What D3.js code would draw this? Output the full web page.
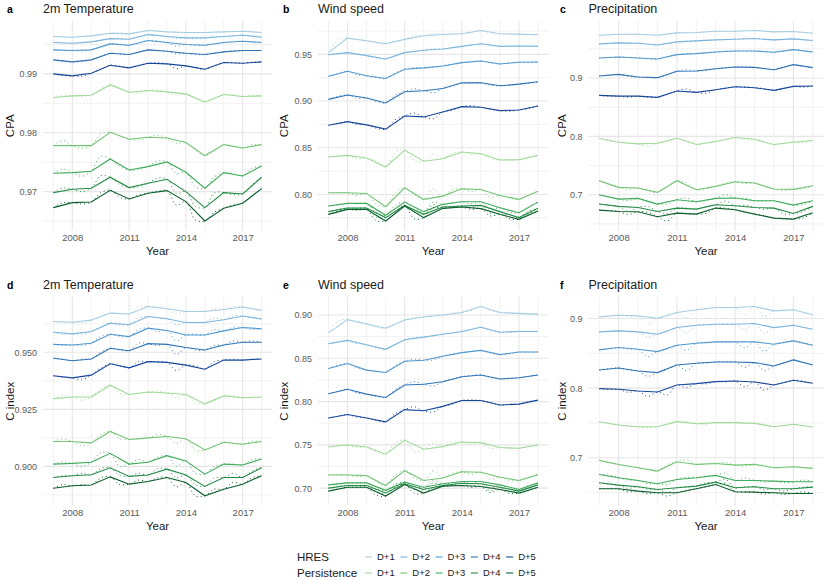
<!DOCTYPE html>
<html>
<head>
<meta charset="utf-8">
<script src="https://cdn.jsdelivr.net/npm/d3@7"></script>
<style>
  body { margin: 0; background: #fff; }
  text { font-family: "Liberation Sans", Arial, sans-serif; }
</style>
</head>
<body>
<div id="chart"></div>
<script>
// Years and lead times
var years = [2007, 2008, 2009, 2010, 2011, 2012, 2013, 2014, 2015, 2016, 2017, 2018];
var leads = ["D+1", "D+2", "D+3", "D+4", "D+5"];
var majorYears = [2008, 2011, 2014, 2017];

// Each series: yearly values (solid line) and mid-year values (dotted line)
// a: 2m temperature, CPA
var tempCpaHres = [
  [0.99635, 0.99623, 0.99646, 0.99691, 0.9968, 0.99737, 0.99714, 0.99703, 0.99703, 0.99714, 0.99725, 0.99703],
  [0.99533, 0.99521, 0.99544, 0.996, 0.99589, 0.99668, 0.99635, 0.99612, 0.99612, 0.99635, 0.99657, 0.99623],
  [0.99408, 0.99397, 0.99408, 0.9951, 0.99487, 0.99567, 0.99533, 0.99499, 0.99487, 0.99533, 0.99555, 0.99533],
  [0.99238, 0.99204, 0.99238, 0.99351, 0.99329, 0.99408, 0.99385, 0.99351, 0.99329, 0.99374, 0.99397, 0.99397],
  [0.99, 0.98966, 0.99011, 0.99147, 0.99102, 0.99181, 0.9917, 0.99136, 0.99079, 0.99193, 0.99181, 0.99204]
];
var tempCpaHresMid = [
  [0.9963, 0.9963, 0.9967, 0.9970, 0.9971, 0.9973, 0.9970, 0.9970, 0.9971, 0.9972, 0.9972],
  [0.9953, 0.9953, 0.9957, 0.9960, 0.9963, 0.9966, 0.9960, 0.9960, 0.9963, 0.9965, 0.9965],
  [0.9940, 0.9939, 0.9946, 0.9950, 0.9952, 0.9956, 0.9947, 0.9948, 0.9951, 0.9955, 0.9955],
  [0.9921, 0.9921, 0.9930, 0.9934, 0.9937, 0.9940, 0.9934, 0.9933, 0.9935, 0.9939, 0.9940],
  [0.9897, 0.9896, 0.9908, 0.9913, 0.9914, 0.9919, 0.9909, 0.9910, 0.9914, 0.9919, 0.9920]
];
var tempCpaPers = [
  [0.98598, 0.98626, 0.98637, 0.98813, 0.98688, 0.98717, 0.98694, 0.9866, 0.98524, 0.98649, 0.98615, 0.98626],
  [0.97782, 0.97782, 0.97782, 0.98008, 0.9789, 0.97924, 0.97912, 0.97833, 0.97612, 0.97799, 0.97742, 0.97799],
  [0.97312, 0.97323, 0.97346, 0.97555, 0.97368, 0.97425, 0.97504, 0.97329, 0.97057, 0.97323, 0.97266, 0.97436],
  [0.96983, 0.9704, 0.97057, 0.97244, 0.97068, 0.97142, 0.9721, 0.97, 0.96728, 0.96983, 0.9696, 0.97244],
  [0.96728, 0.96813, 0.96824, 0.97023, 0.96875, 0.96972, 0.97017, 0.9683, 0.96501, 0.96717, 0.96802, 0.97051]
];
var tempCpaPersMid = [
  [0.9864, 0.9862, 0.9874, 0.9877, 0.9868, 0.9873, 0.9864, 0.9858, 0.9858, 0.9864, 0.9864],
  [0.9787, 0.9773, 0.9798, 0.9795, 0.9788, 0.9796, 0.9782, 0.9770, 0.9768, 0.9777, 0.9780],
  [0.9738, 0.9726, 0.9760, 0.9743, 0.9737, 0.9752, 0.9731, 0.9708, 0.9725, 0.9730, 0.9740],
  [0.9706, 0.9700, 0.9727, 0.9712, 0.9708, 0.9723, 0.9697, 0.9675, 0.9698, 0.9695, 0.9712],
  [0.9681, 0.9679, 0.9698, 0.9690, 0.9694, 0.9701, 0.9677, 0.9652, 0.9665, 0.9677, 0.9693]
];

// b: wind speed, CPA
var windCpaHres = [
  [0.9518, 0.9674, 0.9645, 0.9613, 0.966, 0.9699, 0.9713, 0.972, 0.9755, 0.972, 0.9716, 0.9709],
  [0.9496, 0.9518, 0.9486, 0.945, 0.9518, 0.9543, 0.9557, 0.9585, 0.9613, 0.9585, 0.9589, 0.9585],
  [0.9266, 0.9319, 0.927, 0.9241, 0.934, 0.9355, 0.9376, 0.9411, 0.9429, 0.9397, 0.9415, 0.9418],
  [0.9018, 0.9064, 0.9032, 0.8979, 0.9099, 0.911, 0.9135, 0.9195, 0.9195, 0.9163, 0.9181, 0.9206],
  [0.8741, 0.878, 0.8745, 0.8699, 0.884, 0.883, 0.8883, 0.894, 0.8933, 0.8897, 0.8904, 0.8947]
];
var windCpaHresMid = [
  [0.966, 0.966, 0.962, 0.964, 0.970, 0.972, 0.972, 0.973, 0.973, 0.972, 0.971],
  [0.951, 0.950, 0.946, 0.948, 0.953, 0.956, 0.957, 0.960, 0.960, 0.959, 0.959],
  [0.929, 0.928, 0.925, 0.930, 0.936, 0.936, 0.939, 0.942, 0.941, 0.941, 0.941],
  [0.905, 0.903, 0.900, 0.906, 0.913, 0.909, 0.916, 0.920, 0.917, 0.917, 0.919],
  [0.876, 0.875, 0.871, 0.880, 0.887, 0.881, 0.890, 0.895, 0.891, 0.889, 0.892]
];
var windCpaPers = [
  [0.8401, 0.8418, 0.839, 0.8294, 0.8475, 0.8355, 0.8383, 0.8454, 0.8436, 0.8369, 0.8372, 0.8418],
  [0.8018, 0.8018, 0.8011, 0.7869, 0.8071, 0.7947, 0.7982, 0.806, 0.8053, 0.7989, 0.7947, 0.8035],
  [0.7876, 0.7904, 0.7904, 0.7777, 0.7918, 0.7816, 0.7894, 0.7922, 0.7922, 0.7858, 0.7805, 0.7918],
  [0.7816, 0.7855, 0.7855, 0.7752, 0.7883, 0.7787, 0.7865, 0.7876, 0.7883, 0.7816, 0.7752, 0.7851],
  [0.7787, 0.784, 0.784, 0.7716, 0.7876, 0.7752, 0.7851, 0.7865, 0.7848, 0.7787, 0.7734, 0.7823]
];
var windCpaPersMid = [
  [0.841, 0.838, 0.836, 0.845, 0.836, 0.843, 0.844, 0.843, 0.838, 0.837, 0.840],
  [0.802, 0.799, 0.790, 0.802, 0.800, 0.806, 0.805, 0.803, 0.797, 0.796, 0.799],
  [0.789, 0.790, 0.780, 0.788, 0.786, 0.792, 0.791, 0.790, 0.784, 0.781, 0.787],
  [0.784, 0.785, 0.776, 0.782, 0.781, 0.789, 0.787, 0.786, 0.780, 0.776, 0.782],
  [0.782, 0.783, 0.772, 0.780, 0.774, 0.786, 0.786, 0.784, 0.777, 0.774, 0.779]
];

// c: precipitation, CPA
var precCpaHres = [
  [0.9734, 0.9751, 0.9751, 0.9734, 0.9774, 0.9779, 0.9802, 0.9802, 0.9814, 0.9791, 0.9797, 0.9768],
  [0.9585, 0.9602, 0.9596, 0.9567, 0.9619, 0.9636, 0.9653, 0.9665, 0.9676, 0.9653, 0.967, 0.9642],
  [0.9344, 0.9361, 0.9344, 0.9327, 0.9401, 0.9418, 0.9447, 0.9464, 0.9464, 0.9441, 0.9487, 0.9447],
  [0.9034, 0.9063, 0.9017, 0.9006, 0.9115, 0.912, 0.916, 0.9189, 0.9183, 0.9143, 0.9229, 0.9178],
  [0.8702, 0.869, 0.869, 0.8668, 0.8777, 0.8754, 0.88, 0.8851, 0.8834, 0.8788, 0.8857, 0.8862]
];
var precCpaHresMid = [
  [0.974, 0.975, 0.974, 0.976, 0.978, 0.979, 0.980, 0.981, 0.980, 0.980, 0.978],
  [0.959, 0.960, 0.958, 0.959, 0.963, 0.965, 0.966, 0.967, 0.966, 0.966, 0.966],
  [0.935, 0.935, 0.933, 0.937, 0.942, 0.943, 0.946, 0.946, 0.945, 0.946, 0.947],
  [0.905, 0.903, 0.901, 0.905, 0.914, 0.913, 0.918, 0.919, 0.916, 0.918, 0.920],
  [0.869, 0.867, 0.867, 0.872, 0.881, 0.874, 0.883, 0.885, 0.882, 0.882, 0.884]
];
var precCpaPers = [
  [0.7968, 0.79, 0.7871, 0.7883, 0.7968, 0.786, 0.7911, 0.798, 0.7951, 0.786, 0.79, 0.7928],
  [0.7241, 0.7126, 0.7115, 0.704, 0.7241, 0.7086, 0.7143, 0.7223, 0.7201, 0.7097, 0.7092, 0.7155],
  [0.7, 0.6925, 0.6937, 0.6839, 0.6914, 0.688, 0.6937, 0.6943, 0.6897, 0.6897, 0.6822, 0.6897],
  [0.684, 0.68, 0.6782, 0.6713, 0.677, 0.6753, 0.6828, 0.6811, 0.6782, 0.677, 0.6679, 0.68],
  [0.6736, 0.6713, 0.6708, 0.6622, 0.6685, 0.6668, 0.6771, 0.6742, 0.6668, 0.6599, 0.6582, 0.6691]
];
var precCpaPersMid = [
  [0.792, 0.788, 0.783, 0.791, 0.793, 0.788, 0.795, 0.795, 0.790, 0.788, 0.789],
  [0.718, 0.709, 0.706, 0.714, 0.720, 0.710, 0.720, 0.719, 0.714, 0.707, 0.710],
  [0.696, 0.690, 0.688, 0.684, 0.694, 0.690, 0.700, 0.694, 0.689, 0.686, 0.683],
  [0.682, 0.671, 0.680, 0.668, 0.677, 0.680, 0.689, 0.682, 0.675, 0.667, 0.671],
  [0.673, 0.666, 0.670, 0.655, 0.667, 0.668, 0.677, 0.670, 0.664, 0.659, 0.660]
];

// d: 2m temperature, C index
var tempCiHres = [
  [0.9635, 0.9632, 0.9641, 0.9672, 0.9668, 0.9701, 0.9691, 0.9679, 0.9679, 0.9688, 0.9699, 0.9684],
  [0.9588, 0.9581, 0.9591, 0.9628, 0.9621, 0.9657, 0.9647, 0.9631, 0.9631, 0.9643, 0.9659, 0.9646],
  [0.9535, 0.9532, 0.954, 0.9579, 0.9569, 0.9606, 0.9596, 0.9576, 0.9576, 0.9594, 0.9609, 0.9603],
  [0.9474, 0.9463, 0.9471, 0.9518, 0.9507, 0.9538, 0.9535, 0.9521, 0.951, 0.9532, 0.9544, 0.9544],
  [0.9397, 0.9388, 0.94, 0.945, 0.9432, 0.9459, 0.9456, 0.9444, 0.9426, 0.9466, 0.9466, 0.9471]
];
var tempCiHresMid = [
  [0.963, 0.963, 0.966, 0.967, 0.970, 0.970, 0.967, 0.968, 0.969, 0.970, 0.969],
  [0.958, 0.958, 0.961, 0.962, 0.965, 0.965, 0.962, 0.963, 0.965, 0.966, 0.965],
  [0.953, 0.953, 0.957, 0.957, 0.960, 0.959, 0.955, 0.958, 0.960, 0.961, 0.960],
  [0.947, 0.947, 0.950, 0.951, 0.954, 0.953, 0.949, 0.951, 0.953, 0.955, 0.955],
  [0.939, 0.938, 0.943, 0.944, 0.946, 0.946, 0.942, 0.944, 0.946, 0.947, 0.947]
];
var tempCiPers = [
  [0.9297, 0.9304, 0.9304, 0.9356, 0.9315, 0.9326, 0.9322, 0.9315, 0.9274, 0.9309, 0.9301, 0.9304],
  [0.9109, 0.9109, 0.9103, 0.9153, 0.9118, 0.9125, 0.9131, 0.9121, 0.9072, 0.9106, 0.9097, 0.9109],
  [0.901, 0.9013, 0.9018, 0.9057, 0.901, 0.9018, 0.9047, 0.9024, 0.8966, 0.901, 0.9006, 0.9032],
  [0.8951, 0.8959, 0.8963, 0.8994, 0.8956, 0.8962, 0.8988, 0.8962, 0.8912, 0.8951, 0.8951, 0.8994],
  [0.8904, 0.8915, 0.8918, 0.8954, 0.8922, 0.8934, 0.8951, 0.8929, 0.8871, 0.89, 0.8922, 0.8959]
];
var tempCiPersMid = [
  [0.931, 0.929, 0.934, 0.932, 0.932, 0.933, 0.930, 0.928, 0.929, 0.931, 0.930],
  [0.912, 0.909, 0.914, 0.912, 0.912, 0.914, 0.910, 0.907, 0.909, 0.910, 0.911],
  [0.902, 0.900, 0.906, 0.900, 0.903, 0.904, 0.900, 0.897, 0.900, 0.901, 0.903],
  [0.896, 0.897, 0.899, 0.896, 0.897, 0.899, 0.895, 0.892, 0.895, 0.897, 0.898],
  [0.892, 0.892, 0.895, 0.892, 0.894, 0.895, 0.891, 0.887, 0.890, 0.893, 0.895]
];

// e: wind speed, C index
var windCiHres = [
  [0.8794, 0.8947, 0.8897, 0.8848, 0.8943, 0.8977, 0.9, 0.903, 0.9099, 0.903, 0.9019, 0.9011],
  [0.8669, 0.8707, 0.8657, 0.8604, 0.8714, 0.8745, 0.8779, 0.881, 0.8859, 0.8802, 0.881, 0.881],
  [0.8383, 0.844, 0.8364, 0.8337, 0.8467, 0.8478, 0.8524, 0.8566, 0.8592, 0.8543, 0.8573, 0.8573],
  [0.809, 0.8143, 0.8086, 0.8048, 0.8192, 0.82, 0.823, 0.8288, 0.8307, 0.8261, 0.8276, 0.8307],
  [0.7811, 0.785, 0.7811, 0.7766, 0.7907, 0.7895, 0.7945, 0.8013, 0.8013, 0.796, 0.7971, 0.8017]
];
var windCiHresMid = [
  [0.893, 0.892, 0.886, 0.889, 0.897, 0.900, 0.902, 0.905, 0.905, 0.902, 0.902],
  [0.869, 0.867, 0.862, 0.866, 0.874, 0.876, 0.879, 0.883, 0.882, 0.880, 0.881],
  [0.842, 0.839, 0.835, 0.842, 0.849, 0.848, 0.855, 0.858, 0.856, 0.855, 0.857],
  [0.812, 0.810, 0.806, 0.814, 0.823, 0.818, 0.826, 0.830, 0.828, 0.827, 0.829],
  [0.783, 0.782, 0.778, 0.786, 0.794, 0.788, 0.797, 0.802, 0.799, 0.797, 0.800]
];
var windCiPers = [
  [0.7476, 0.7499, 0.7476, 0.7392, 0.7556, 0.745, 0.748, 0.7533, 0.7526, 0.7469, 0.7461, 0.7499],
  [0.7152, 0.7152, 0.7145, 0.703, 0.7202, 0.7088, 0.7118, 0.719, 0.7183, 0.7126, 0.7088, 0.7156],
  [0.7038, 0.7061, 0.7061, 0.6975, 0.7069, 0.7011, 0.705, 0.7076, 0.7076, 0.7038, 0.6985, 0.7061],
  [0.7, 0.703, 0.703, 0.6945, 0.705, 0.6985, 0.703, 0.7057, 0.705, 0.7011, 0.6966, 0.7038],
  [0.6966, 0.7011, 0.7011, 0.6909, 0.7042, 0.6943, 0.7023, 0.703, 0.7019, 0.6985, 0.6943, 0.7011]
];
var windCiPersMid = [
  [0.750, 0.747, 0.742, 0.752, 0.742, 0.752, 0.753, 0.751, 0.746, 0.746, 0.748],
  [0.716, 0.713, 0.707, 0.715, 0.712, 0.720, 0.717, 0.716, 0.710, 0.709, 0.712],
  [0.705, 0.706, 0.699, 0.705, 0.702, 0.709, 0.706, 0.705, 0.700, 0.699, 0.703],
  [0.702, 0.703, 0.696, 0.703, 0.698, 0.706, 0.704, 0.702, 0.697, 0.696, 0.700],
  [0.699, 0.701, 0.692, 0.701, 0.694, 0.701, 0.703, 0.701, 0.695, 0.694, 0.697]
];

// f: precipitation, C index
var precCiHres = [
  [0.9024, 0.9048, 0.9038, 0.9005, 0.9086, 0.9125, 0.9158, 0.9158, 0.9173, 0.911, 0.9125, 0.9053],
  [0.8808, 0.8823, 0.8808, 0.8775, 0.887, 0.8904, 0.8918, 0.8918, 0.8928, 0.887, 0.8904, 0.8847],
  [0.8549, 0.8583, 0.8559, 0.8525, 0.8616, 0.8645, 0.8664, 0.8664, 0.8664, 0.8631, 0.8679, 0.8616],
  [0.8261, 0.829, 0.8247, 0.8223, 0.8333, 0.8357, 0.8376, 0.8376, 0.8367, 0.8319, 0.8405, 0.8333],
  [0.7993, 0.7983, 0.7959, 0.7945, 0.8046, 0.8065, 0.8094, 0.8103, 0.8089, 0.8046, 0.8113, 0.807]
];
var precCiHresMid = [
  [0.903, 0.903, 0.892, 0.903, 0.901, 0.913, 0.915, 0.905, 0.903, 0.911, 0.909],
  [0.882, 0.881, 0.873, 0.881, 0.879, 0.891, 0.892, 0.884, 0.879, 0.888, 0.887],
  [0.857, 0.856, 0.845, 0.856, 0.854, 0.865, 0.866, 0.858, 0.853, 0.866, 0.865],
  [0.828, 0.826, 0.817, 0.827, 0.825, 0.836, 0.838, 0.830, 0.825, 0.836, 0.837],
  [0.798, 0.794, 0.788, 0.790, 0.801, 0.806, 0.809, 0.802, 0.797, 0.808, 0.810]
];
var precCiPers = [
  [0.7518, 0.747, 0.7446, 0.7446, 0.7518, 0.7489, 0.7504, 0.7504, 0.7494, 0.7446, 0.748, 0.7441],
  [0.6962, 0.6904, 0.6856, 0.6808, 0.6942, 0.6904, 0.6918, 0.6894, 0.6904, 0.6856, 0.687, 0.6847],
  [0.676, 0.6712, 0.6674, 0.6626, 0.6688, 0.6712, 0.6746, 0.6674, 0.6674, 0.6664, 0.6655, 0.6655],
  [0.664, 0.6607, 0.6583, 0.6544, 0.6568, 0.6592, 0.665, 0.6568, 0.6583, 0.6554, 0.6554, 0.6578],
  [0.6554, 0.6554, 0.652, 0.6496, 0.6496, 0.6554, 0.6616, 0.6511, 0.6506, 0.6496, 0.6487, 0.6487]
];
var precCiPersMid = [
  [0.749, 0.745, 0.743, 0.748, 0.752, 0.748, 0.750, 0.749, 0.748, 0.746, 0.746],
  [0.693, 0.688, 0.683, 0.690, 0.697, 0.691, 0.693, 0.688, 0.689, 0.686, 0.686],
  [0.675, 0.668, 0.663, 0.661, 0.672, 0.673, 0.678, 0.671, 0.665, 0.664, 0.668],
  [0.662, 0.656, 0.655, 0.650, 0.658, 0.664, 0.669, 0.658, 0.654, 0.652, 0.658],
  [0.656, 0.651, 0.648, 0.645, 0.653, 0.658, 0.663, 0.651, 0.648, 0.647, 0.651]
];

// tick labels per panel
var tempCpaTicks = [0.97, 0.98, 0.99];
var windCpaTicks = [0.80, 0.85, 0.90, 0.95];
var precCpaTicks = [0.7, 0.8, 0.9];
var tempCiTicks = [0.900, 0.925, 0.950];
var windCiTicks = [0.70, 0.75, 0.80, 0.85, 0.90];
var precCiTicks = [0.7, 0.8, 0.9];

var hresColors = ["#a6cee3", "#7db6dd", "#5299cf", "#2f74b8", "#17479a"];
var persColors = ["#a1d99b", "#74c476", "#41ab5d", "#238b45", "#0b5e2e"];

var panels = [
  { tag: "a", title: "2m Temperature", ylab: "CPA", col: 0, row: 0, hres: tempCpaHres, hresMid: tempCpaHresMid, pers: tempCpaPers, persMid: tempCpaPersMid, ticks: tempCpaTicks, fmt: ".2f" },
  { tag: "b", title: "Wind speed", ylab: "CPA", col: 1, row: 0, hres: windCpaHres, hresMid: windCpaHresMid, pers: windCpaPers, persMid: windCpaPersMid, ticks: windCpaTicks, fmt: ".2f" },
  { tag: "c", title: "Precipitation", ylab: "CPA", col: 2, row: 0, hres: precCpaHres, hresMid: precCpaHresMid, pers: precCpaPers, persMid: precCpaPersMid, ticks: precCpaTicks, fmt: ".1f" },
  { tag: "d", title: "2m Temperature", ylab: "C index", col: 0, row: 1, hres: tempCiHres, hresMid: tempCiHresMid, pers: tempCiPers, persMid: tempCiPersMid, ticks: tempCiTicks, fmt: ".3f" },
  { tag: "e", title: "Wind speed", ylab: "C index", col: 1, row: 1, hres: windCiHres, hresMid: windCiHresMid, pers: windCiPers, persMid: windCiPersMid, ticks: windCiTicks, fmt: ".2f" },
  { tag: "f", title: "Precipitation", ylab: "C index", col: 2, row: 1, hres: precCiHres, hresMid: precCiHresMid, pers: precCiPers, persMid: precCiPersMid, ticks: precCiTicks, fmt: ".1f" }
];

// Layout
var colX = [[43, 272], [318, 548.5], [588.5, 823.5]];
var rowY = [[21, 230.5], [297, 505.5]];
var tagX = [7, 283, 560];
var ylabX = [9.5, 284, 562];

var svg = d3.select("#chart").append("svg")
  .attr("width", 830)
  .attr("height", 580);

panels.forEach(function (p) {
  var x0 = colX[p.col][0], x1 = colX[p.col][1];
  var y0 = rowY[p.row][0], y1 = rowY[p.row][1];

  // x scale with ggplot-like 5% expansion
  var xPad = (years[years.length - 1] - years[0]) * 0.05;
  var xScale = d3.scaleLinear()
    .domain([years[0] - xPad, years[years.length - 1] + xPad])
    .range([x0, x1]);

  var all = d3.merge([].concat(p.hres, p.hresMid, p.pers, p.persMid));
  var ext = d3.extent(all);
  var yPad = (ext[1] - ext[0]) * 0.05;
  var yScale = d3.scaleLinear()
    .domain([ext[0] - yPad, ext[1] + yPad])
    .range([y1, y0]);

  var g = svg.append("g");

  // vertical grid: every year, heavier at labelled years
  g.selectAll(".vgrid")
    .data(years)
    .enter()
    .append("line")
    .attr("x1", function (d) { return xScale(d); })
    .attr("x2", function (d) { return xScale(d); })
    .attr("y1", y0)
    .attr("y2", y1)
    .attr("stroke", function (d) { return majorYears.indexOf(d) >= 0 ? "#e6e6e6" : "#ededed"; })
    .attr("stroke-width", function (d) { return majorYears.indexOf(d) >= 0 ? 1.1 : 0.8; });

  // horizontal grid: major at ticks, minor halfway
  var step = p.ticks[1] - p.ticks[0];
  var minor = [];
  for (var i = -1; i < p.ticks.length; i++) {
    var v = p.ticks[0] + step * (i + 0.5);
    if (v > yScale.domain()[0] && v < yScale.domain()[1]) minor.push(v);
  }
  g.selectAll(".hminor")
    .data(minor)
    .enter()
    .append("line")
    .attr("x1", x0).attr("x2", x1)
    .attr("y1", function (d) { return yScale(d); })
    .attr("y2", function (d) { return yScale(d); })
    .attr("stroke", "#ededed")
    .attr("stroke-width", 0.8);
  g.selectAll(".hmajor")
    .data(p.ticks)
    .enter()
    .append("line")
    .attr("x1", x0).attr("x2", x1)
    .attr("y1", function (d) { return yScale(d); })
    .attr("y2", function (d) { return yScale(d); })
    .attr("stroke", "#e6e6e6")
    .attr("stroke-width", 1.1);

  // y axis labels
  var yAxis = g.append("g")
    .attr("transform", "translate(" + x0 + ",0)")
    .call(d3.axisLeft(yScale).tickValues(p.ticks).tickFormat(d3.format(p.fmt)).tickSize(0).tickPadding(6));
  yAxis.select(".domain").remove();
  yAxis.selectAll("text")
    .attr("fill", "#5a5a5a")
    .style("font-size", "9px");

  // x axis labels
  var xAxis = g.append("g")
    .attr("transform", "translate(0," + y1 + ")")
    .call(d3.axisBottom(xScale).tickValues(majorYears).tickFormat(d3.format("d")).tickSize(0).tickPadding(4));
  xAxis.select(".domain").remove();
  xAxis.selectAll("text")
    .attr("fill", "#5a5a5a")
    .style("font-size", "9.5px");

  // lines
  var solid = d3.line()
    .x(function (d) { return xScale(d[0]); })
    .y(function (d) { return yScale(d[1]); });
  var dotted = d3.line()
    .curve(d3.curveCatmullRom.alpha(0.5))
    .x(function (d) { return xScale(d[0]); })
    .y(function (d) { return yScale(d[1]); });

  function pts(vals) {
    return vals.map(function (v, k) { return [years[k], v]; });
  }
  function dotPts(vals, mids) {
    var out = [];
    vals.forEach(function (v, k) {
      out.push([years[k], v]);
      if (k < mids.length) out.push([years[k] + 0.5, mids[k]]);
    });
    return out;
  }

  [[p.pers, p.persMid, persColors], [p.hres, p.hresMid, hresColors]].forEach(function (set) {
    set[0].forEach(function (vals, k) {
      g.append("path")
        .attr("d", solid(pts(vals)))
        .attr("fill", "none")
        .attr("stroke", set[2][k])
        .attr("stroke-width", 1.1);
      g.append("path")
        .attr("d", dotted(dotPts(vals, set[1][k])))
        .attr("fill", "none")
        .attr("stroke", set[2][k])
        .attr("stroke-width", 1)
        .attr("stroke-dasharray", "1,3");
    });
  });

  // tag and title
  svg.append("text")
    .attr("x", tagX[p.col])
    .attr("y", y0 - 8)
    .style("font-size", "10.5px")
    .style("font-weight", "bold")
    .attr("fill", "#000")
    .text(p.tag);
  svg.append("text")
    .attr("x", x0)
    .attr("y", y0 - 8)
    .style("font-size", "12.5px")
    .attr("fill", "#1a1a1a")
    .text(p.title);

  // axis titles
  svg.append("text")
    .attr("text-anchor", "middle")
    .attr("x", (x0 + x1) / 2)
    .attr("y", y1 + 24.5)
    .style("font-size", "11.5px")
    .attr("fill", "#1a1a1a")
    .text("Year");
  svg.append("text")
    .attr("text-anchor", "middle")
    .attr("transform", "translate(" + ylabX[p.col] + "," + ((y0 + y1) / 2) + ") rotate(-90)")
    .attr("dy", "0.35em")
    .style("font-size", "11.5px")
    .attr("fill", "#1a1a1a")
    .text(p.ylab);
});

// Legend
var legend = svg.append("g");
var legendRows = [["HRES", hresColors, 557], ["Persistence", persColors, 573]];
legendRows.forEach(function (r) {
  legend.append("text")
    .attr("x", 297)
    .attr("y", r[2])
    .attr("dy", "0.35em")
    .style("font-size", "11.5px")
    .attr("fill", "#1a1a1a")
    .text(r[0]);
  leads.forEach(function (lab, k) {
    var kx = 365 + k * 35.3;
    legend.append("line")
      .attr("x1", kx).attr("x2", kx + 7)
      .attr("y1", r[2]).attr("y2", r[2])
      .attr("stroke", r[1][k])
      .attr("stroke-width", 1.1);
    legend.append("text")
      .attr("x", kx + 12)
      .attr("y", r[2])
      .attr("dy", "0.35em")
      .style("font-size", "9.5px")
      .attr("fill", "#1a1a1a")
      .text(lab);
  });
});
</script>
</body>
</html>
